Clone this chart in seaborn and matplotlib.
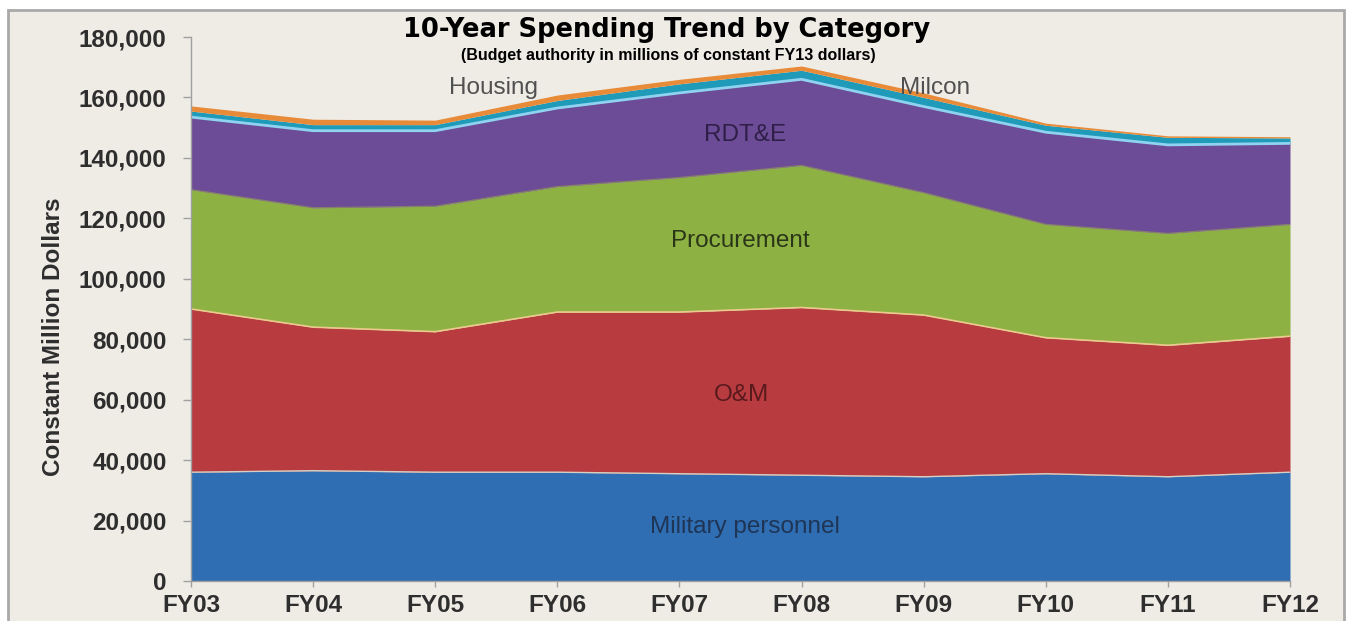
import numpy as np
import pandas as pd
import seaborn as sns
import matplotlib.pyplot as plt
from matplotlib.patches import Rectangle
from matplotlib.ticker import FuncFormatter

# values (millions of constant FY13 dollars)
years = ["FY03", "FY04", "FY05", "FY06", "FY07", "FY08", "FY09", "FY10", "FY11", "FY12"]
military_personnel = [36000, 36500, 36000, 36000, 35500, 35000, 34500, 35500, 34500, 36000]
om = [54000, 47500, 46500, 53000, 53500, 55500, 53500, 45000, 43500, 45000]
procurement = [39500, 39500, 41500, 41500, 44500, 47000, 40500, 37500, 37000, 37000]
rdte = [24000, 25500, 25000, 26000, 28000, 28500, 28500, 30500, 29300, 26800]
milcon = [2000, 2000, 2000, 2500, 3000, 3000, 3000, 2300, 2500, 1800]
housing = [1700, 1800, 1500, 1800, 1500, 1400, 1500, 700, 500, 400]

categories = ["Military personnel", "O&M", "Procurement", "RDT&E", "Milcon", "Housing"]
colors = ["#2f6eb2", "#b73b3f", "#8db243", "#6c4c96", "#1f9ab8", "#e88b38"]

df = pd.DataFrame({
    "Military personnel": military_personnel,
    "O&M": om,
    "Procurement": procurement,
    "RDT&E": rdte,
    "Milcon": milcon,
    "Housing": housing,
}, index=years)

sns.set_theme(style="white")
plt.rcParams['font.family'] = ['Liberation Sans', 'DejaVu Sans']

bg = "#efece6"
W, H = 1354, 621
fig = plt.figure(figsize=(W / 100, H / 100), dpi=100, facecolor="white")
frame = Rectangle((8 / W, -0.05), (1344 - 8) / W, 1.05 - 10 / H,
                  transform=fig.transFigure, facecolor=bg,
                  edgecolor="#a9a9a9", lw=2, zorder=-10)
fig.patches.append(frame)

ax = fig.add_axes([191 / W, 1 - 581 / H, (1290 - 191) / W, (581 - 37) / H])
ax.set_facecolor(bg)
ax.patch.set_alpha(0)

x = np.arange(len(years))
ax.stackplot(x, df[categories].T.values, colors=colors, lw=0)

# thin separator lines between bands
cum = df[categories].cumsum(axis=1)
seps = [("Military personnel", "#d6d0c4", 1.0),
        ("O&M", "#ecc98e", 1.2),
        ("Procurement", "#857f6c", 0.9),
        ("RDT&E", "#8fd3f0", 2.0)]
for col, c, lw in seps:
    sns.lineplot(x=x, y=cum[col].values, ax=ax, color=c, lw=lw)

ax.set_xlim(0, len(years) - 1)
ax.set_ylim(0, 180000)
ax.set_xticks(x)
ax.set_xticklabels(years)
ax.set_yticks(np.arange(0, 180001, 20000))
ax.yaxis.set_major_formatter(FuncFormatter(lambda v, p: f"{int(v):,}"))

for s in ["top", "right"]:
    ax.spines[s].set_visible(False)
for s in ["left", "bottom"]:
    ax.spines[s].set_color("#a0a0a0")
    ax.spines[s].set_linewidth(1.0)

ax.tick_params(axis="y", direction="out", length=6, width=1, color="#a0a0a0",
               pad=11.5, labelsize=17.5, labelcolor="#2e2e2e", left=True)
ax.tick_params(axis="x", direction="out", length=4, width=1, color="#a0a0a0",
               pad=5, labelsize=17.5, labelcolor="#2e2e2e", bottom=True)
for lab in ax.get_xticklabels() + ax.get_yticklabels():
    lab.set_fontweight("bold")

ax.set_xlabel("")
ax.set_ylabel("Constant Million Dollars", fontsize=17.5, fontweight="bold",
              color="#2e2e2e", va="center", ha="center")
ax.yaxis.set_label_coords((53 - 191) / 1099, (581 - 337) / 544)

# in-band category labels
labels = [("Military personnel", 4.54, 17900, "#1f3556"),
          ("O&M", 4.51, 61500, "#5a1a1d"),
          ("Procurement", 4.50, 112500, "#2b3618"),
          ("RDT&E", 4.54, 147600, "#2f1f48"),
          ("Housing", 2.48, 163100, "#505050"),
          ("Milcon", 6.09, 163100, "#505050")]
for txt, lx, ly, c in labels:
    ax.text(lx, ly, txt, ha="center", va="center", fontsize=17.5, color=c)

fig.text(667 / W, 1 - 37 / H, "10-Year Spending Trend by Category",
         ha="center", va="baseline", fontsize=18.5, fontweight="bold",
         family=["DejaVu Sans"], color="black")
fig.text(668 / W, 1 - 60 / H, "(Budget authority in millions of constant FY13 dollars)",
         ha="center", va="baseline", fontsize=11.5, fontweight="bold", color="black")

fig.savefig("out.png", dpi=100, facecolor="white")
